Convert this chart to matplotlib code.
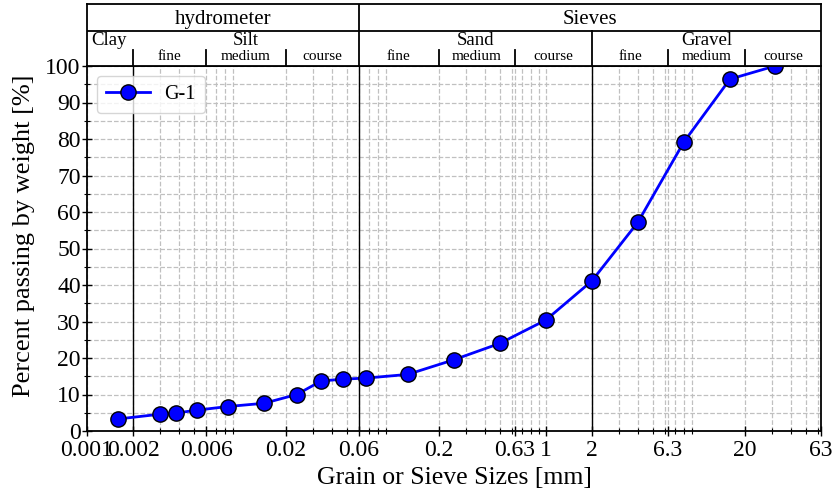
import matplotlib
matplotlib.use("Agg")
import matplotlib.pyplot as plt
from matplotlib.ticker import FixedLocator, LogLocator, NullFormatter, MultipleLocator

plt.rcParams['font.family'] = ['Liberation Serif', 'DejaVu Serif']

# grain size distribution, sample G-1
sizes = [0.0016, 0.003, 0.0038, 0.0052, 0.0083, 0.0144, 0.0235, 0.034, 0.047, 0.067,
         0.125, 0.25, 0.5, 1.0, 2.0, 4.0, 8.0, 16.0, 31.5]
passing = [3.3, 4.6, 4.9, 5.7, 6.7, 7.6, 10.0, 13.7, 14.2, 14.5,
           15.5, 19.5, 24.0, 30.4, 41.1, 57.2, 79.2, 96.4, 100.0]

xticks = [0.001, 0.002, 0.006, 0.02, 0.06, 0.2, 0.63, 1, 2, 6.3, 20, 63]
xticklabels = ['0.001', '0.002', '0.006', '0.02', '0.06', '0.2', '0.63', '1', '2', '6.3', '20', '63']

# soil classes (main boundaries and sub boundaries)
main_bounds = [0.002, 0.06, 2]
sub_bounds = [0.006, 0.02, 0.2, 0.63, 6.3, 20]
groups = [('Silt', 0.002, 0.06), ('Sand', 0.06, 2), ('Gravel', 2, 63)]
subs = ['fine', 'medium', 'course']

fig = plt.figure(figsize=(8.32, 4.93), dpi=100)
left, right, bottom, top = 87/832, 821/832, 1 - 431/493, 1 - 66/493
ax = fig.add_axes([left, bottom, right - left, top - bottom])

ax.plot(sizes, passing, '-o', color='blue', lw=2, ms=11, mfc='blue', mec='black',
        mew=1, label='G-1', zorder=5)
ax.set_xscale('log')
ax.set_xlim(0.001, 63)
ax.set_ylim(0, 100)
ax.xaxis.set_major_locator(FixedLocator(xticks))
ax.set_xticklabels(xticklabels)
ax.xaxis.set_minor_locator(LogLocator(base=10, subs=range(2, 10), numticks=20))
ax.xaxis.set_minor_formatter(NullFormatter())
ax.yaxis.set_major_locator(MultipleLocator(10))
ax.yaxis.set_minor_locator(MultipleLocator(5))
ax.tick_params(which='major', direction='inout', length=7, width=1, labelsize=17, pad=1)
ax.tick_params(axis='x', which='major', pad=3)
ax.tick_params(which='minor', direction='inout', length=4, width=0.8)
ax.grid(True, which='both', ls='--', color='#c0c0c0', lw=0.9)
for b in main_bounds:
    ax.axvline(b, color='black', lw=1, zorder=3)
for s in ax.spines.values():
    s.set_linewidth(1.3)
ax.set_xlabel('Grain or Sieve Sizes [mm]', fontsize=18.5, labelpad=4)
ax.set_ylabel('Percent passing by weight [%]', fontsize=19, labelpad=2)
ax.yaxis.set_label_coords(-0.071, 0.535)
ax.legend(loc='upper left', fontsize=14.5, handlelength=2.2, handletextpad=0.7,
          borderpad=0.45)

# header boxes above the plot
hx = fig.add_axes([left, top, right - left, 1 - 4/493 - top])
hx.set_xscale('log')
hx.set_xlim(0.001, 63)
hx.set_ylim(0, 1)
hx.set_xticks([])
hx.set_yticks([])
hx.minorticks_off()
for s in hx.spines.values():
    s.set_linewidth(1.3)
hx.axhline(0.565, color='black', lw=1.3)
hx.plot([0.06, 0.06], [0, 1], color='black', lw=1.3)
hx.plot([2, 2], [0, 0.565], color='black', lw=1.3)
for b in sub_bounds + [0.002]:
    hx.plot([b, b], [0, 0.26], color='black', lw=1.3)

hx.text((0.001 * 0.06) ** 0.5, 0.75, 'hydrometer', ha='center', va='center', fontsize=15)
hx.text((0.06 * 63) ** 0.5, 0.75, 'Sieves', ha='center', va='center', fontsize=15)
hx.text(0.00107, 0.41, 'Clay', ha='left', va='center', fontsize=13.5)
for name, a, b in groups:
    hx.text((a * b) ** 0.5, 0.41, name, ha='center', va='center', fontsize=13.5)
    edges = [a] + [x for x in sub_bounds if a < x < b] + [b]
    for i, sname in enumerate(subs):
        hx.text((edges[i] * edges[i + 1]) ** 0.5, 0.16, sname, ha='center', va='center',
                fontsize=11)

fig.savefig('out.png', dpi=100)
